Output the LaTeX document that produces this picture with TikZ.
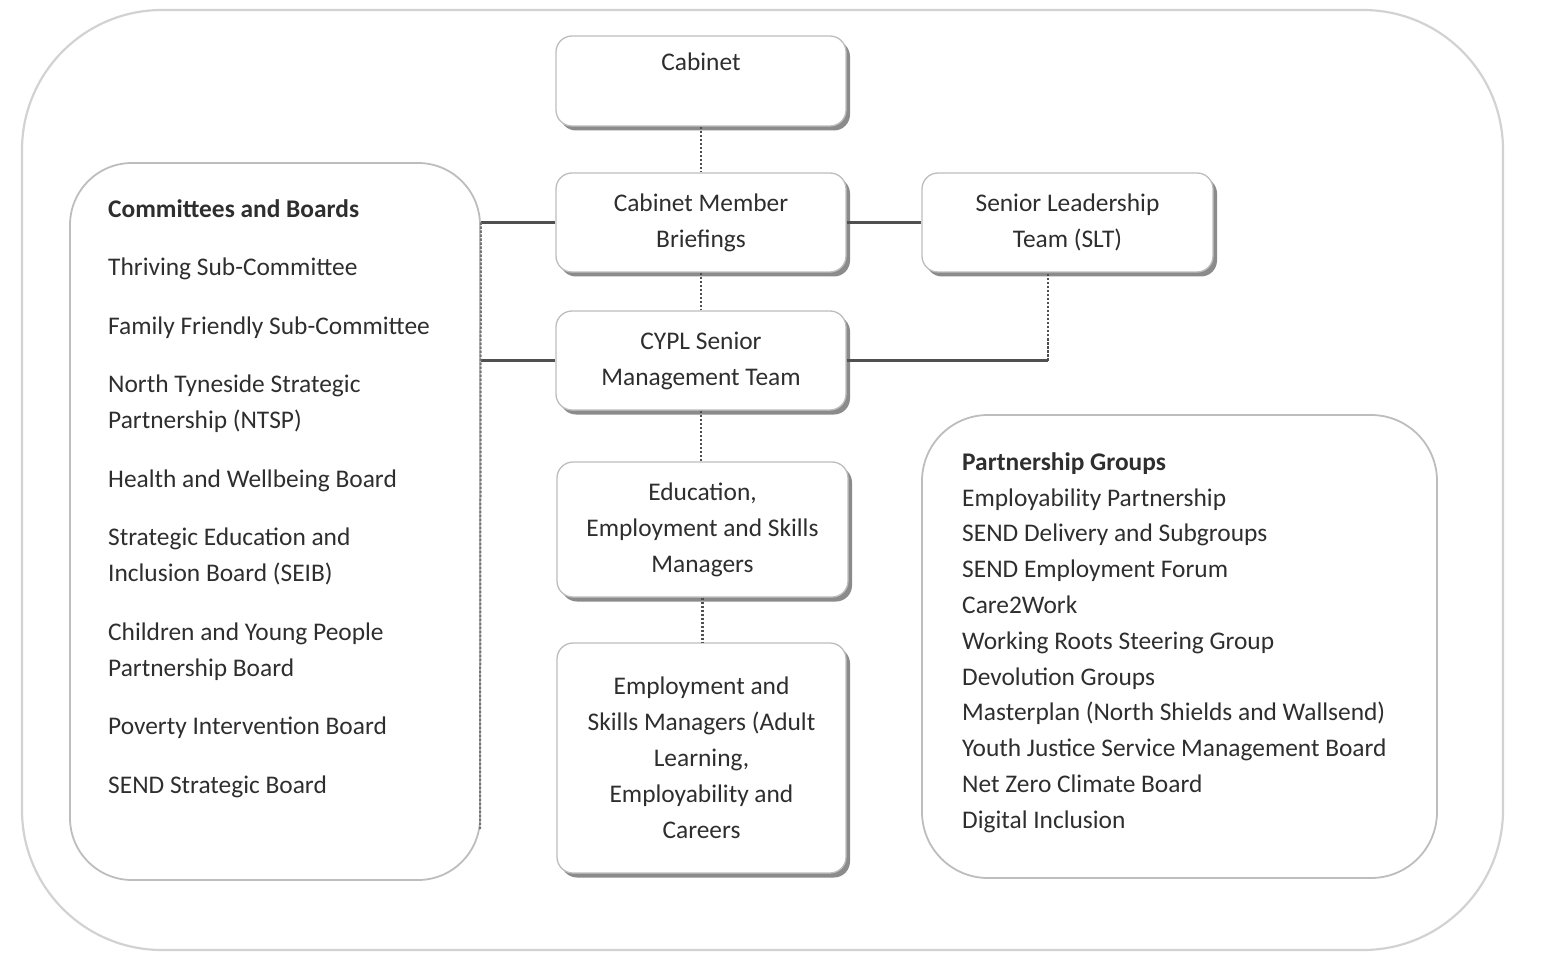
\documentclass[tikz,border=0pt]{standalone}
\usepackage{fontspec}
\setmainfont{Carlito}
\usetikzlibrary{shadows}
\definecolor{boxline}{HTML}{BDBDBD}
\definecolor{outerline}{HTML}{D2D2D2}
\definecolor{conn}{HTML}{505050}
\definecolor{txt}{HTML}{2E2E2E}
\definecolor{shade}{HTML}{7E7E7E}
\begin{document}
\begin{tikzpicture}[x=1pt,y=-1pt,
  orgbox/.style={draw=boxline, line width=1.3pt, fill=white, rounded corners=16pt,
    minimum width=290pt, align=center, text=txt, font=\fontsize{25.4}{36}\selectfont,
    drop shadow={shadow xshift=4pt, shadow yshift=-4.5pt, fill=shade, opacity=0.9}},
  groupbox/.style={draw=boxline, line width=1.8pt, rounded corners=62pt, fill=none},
  framebox/.style={draw=outerline, line width=2.2pt, rounded corners=140pt, fill=none},
  listtext/.style={align=left, text=txt, font=\fontsize{25.4}{36}\selectfont, inner sep=0pt, anchor=north west},
  solidlink/.style={draw=conn, line width=2.6pt},
  dotlink/.style={draw=conn, line width=2.4pt, dash pattern=on 2.5pt off 1.5pt},
]
\useasboundingbox (0,0) rectangle (1549,973);

% outer frame
\node[framebox, minimum width=1481pt, minimum height=940pt] (frame) at (762.5,480) {};

% group boxes
\node[groupbox, minimum width=410pt, minimum height=717pt] (cb) at (275,521.5) {};
\node[groupbox, minimum width=515pt, minimum height=463pt, rounded corners=66pt] (pb) at (1179.5,646.5) {};

% central boxes
\node[orgbox, minimum height=90pt] (cab) at (701,81) {\strut Cabinet\\\strut};
\node[orgbox, minimum height=99pt] (cmb) at (701,222.5) {Cabinet Member\\Briefings};
\node[orgbox, minimum height=99pt, minimum width=291pt] (slt) at (1067.5,222.5) {Senior Leadership\\Team (SLT)};
\node[orgbox, minimum height=99pt] (cypl) at (701,360.5) {CYPL Senior\\Management Team};
\node[orgbox, minimum height=135pt, minimum width=291pt] (edu) at (702.5,529.5) {Education,\\Employment and Skills\\Managers};
\node[orgbox, minimum height=230pt, minimum width=289pt] (emp) at (701.5,758) {Employment and\\Skills Managers (Adult\\Learning,\\Employability and\\Careers};

% list texts
\node[listtext] (cbtext) at (108,192) {\strut\textbf{Committees and Boards}\\[22.5pt]
Thriving Sub-Committee\\[22.5pt]
Family Friendly Sub-Committee\\[22.5pt]
North Tyneside Strategic\\
Partnership (NTSP)\\[22.5pt]
Health and Wellbeing Board\\[22.5pt]
Strategic Education and\\
Inclusion Board (SEIB)\\[22.5pt]
Children and Young People\\
Partnership Board\\[22.5pt]
Poverty Intervention Board\\[22.5pt]
SEND Strategic Board};

\node[listtext, font=\fontsize{25.4}{35.8}\selectfont] (pbtext) at (962,445) {\strut\textbf{Partnership Groups}\\
Employability Partnership\\
SEND Delivery and Subgroups\\
SEND Employment Forum\\
Care2Work\\
Working Roots Steering Group\\
Devolution Groups\\
Masterplan (North Shields and Wallsend)\\
Youth Justice Service Management Board\\
Net Zero Climate Board\\
Digital Inclusion};

% junction coordinates
\coordinate (cbj1) at (cb.east |- cmb.west);
\coordinate (cbj2) at (cb.east |- cypl.west);
\coordinate (cbend) at (480,830);
\coordinate (sltj) at (1048,360.5);

% connectors
\draw[dotlink] (cab.south) -- (cmb.north);
\draw[dotlink] (cmb.south) -- (cypl.north);
\draw[dotlink] (cypl.south) -- (edu.north -| cypl.south);
\draw[dotlink] (edu.south) -- (emp.north -| edu.south);
\draw[solidlink] (cmb.west) -- (cbj1);
\draw[solidlink] (cypl.west) -- (cbj2);
\draw[solidlink] (cmb.east) -- (slt.west);
\draw[solidlink] (cypl.east) -- (sltj);
\draw[dotlink] (sltj) -- (sltj |- slt.south);
\draw[dotlink, line width=2pt, draw=conn!80] (cbj1) -- (cbend);
\end{tikzpicture}
\end{document}
